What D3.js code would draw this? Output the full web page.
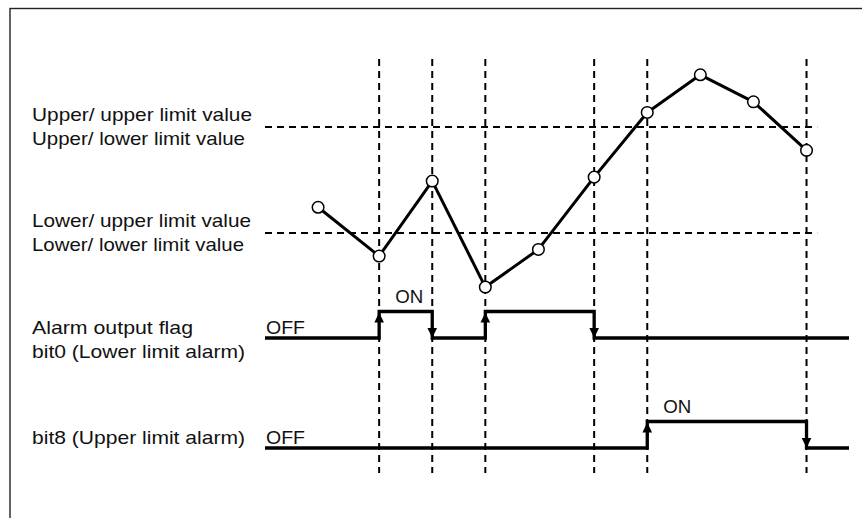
<!DOCTYPE html>
<html>
<head>
<meta charset="utf-8">
<script src="https://cdn.jsdelivr.net/npm/d3@7"></script>
<style>
  html, body { margin: 0; padding: 0; background: #fff; overflow: hidden; }
  svg { display: block; }
  text { font-family: "Liberation Sans", Arial, sans-serif; fill: #111; }
</style>
</head>
<body>
<svg id="chart" width="862" height="518"></svg>
<script>
// ---------------- data ----------------
const sampleTimes  = [1.0, 2.15, 3.15, 4.15, 5.15, 6.2, 7.2, 8.2, 9.2, 10.2];
const sampleValues = [39.7, 21.3, 49.6, 9.6, 23.8, 51.1, 75.5, 89.7, 79.5, 61.2];
const limitValues  = [70, 30];
const limitLabels  = [
  ["Upper/ upper limit value", "Upper/ lower limit value"],
  ["Lower/ upper limit value", "Lower/ lower limit value"]
];
const eventTimes   = [2.15, 3.15, 4.15, 6.2, 7.2, 10.2];
const signalNames  = ["bit0", "bit8"];
const bit0Edges    = [2.15, 3.15, 4.15, 6.2];
const bit8Edges    = [7.2, 10.2];
const signalLabels = [
  ["Alarm output flag", "bit0 (Lower limit alarm)"],
  ["bit8 (Upper limit alarm)"]
];
const stateLabels  = ["OFF", "ON"];

// ---------------- layout ----------------
const svg = d3.select("#chart");
const x = d3.scaleLinear().domain([0, 11]).range([265, 849]);
const y = d3.scaleLinear().domain([0, 100]).range([312.5, 47.5]);
const row = d3.scalePoint().domain(signalNames).range([338, 448]);
const level = d3.scaleLinear().domain([0, 1]).range([0, -26.5]);

const labelWidths = {
  "Upper/ upper limit value": 220, "Upper/ lower limit value": 213,
  "Lower/ upper limit value": 219, "Lower/ lower limit value": 212,
  "Alarm output flag": 161, "bit0 (Lower limit alarm)": 213,
  "bit8 (Upper limit alarm)": 213, "OFF": 39, "ON": 28
};
function addText(g, str, tx, ty, size) {
  g.append("text")
    .attr("x", tx).attr("y", ty)
    .attr("font-size", size || 19)
    .attr("textLength", labelWidths[str])
    .attr("lengthAdjust", "spacingAndGlyphs")
    .text(str);
}

// frame (open on right/bottom)
svg.append("rect")
  .attr("x", 10).attr("y", 8.5).attr("width", 900).attr("height", 600)
  .attr("fill", "none").attr("stroke", "#222").attr("stroke-width", 1.4);

const dash = "7,5";

// horizontal limit lines
svg.append("g").selectAll("line").data(limitValues).join("line")
  .attr("x1", x(0)).attr("x2", x(10.4))
  .attr("y1", d => y(d)).attr("y2", d => y(d))
  .attr("stroke", "#000").attr("stroke-width", 2).attr("stroke-dasharray", dash);

// vertical event lines
svg.append("g").selectAll("line").data(eventTimes).join("line")
  .attr("x1", d => x(d)).attr("x2", d => x(d))
  .attr("y1", 59).attr("y2", 473)
  .attr("stroke", "#000").attr("stroke-width", 2).attr("stroke-dasharray", dash);

// limit labels
const lg = svg.append("g");
limitValues.forEach((v, i) => {
  limitLabels[i].forEach((s, j) => addText(lg, s, 32, y(v) - 6 + 24 * j));
});

// process value line
const pts = sampleTimes.map((t, i) => [t, sampleValues[i]]);
svg.append("path")
  .datum(pts)
  .attr("d", d3.line().x(d => x(d[0])).y(d => y(d[1])))
  .attr("fill", "none").attr("stroke", "#000").attr("stroke-width", 3)
  .attr("stroke-linejoin", "round");
svg.append("g").selectAll("circle").data(pts).join("circle")
  .attr("cx", d => x(d[0])).attr("cy", d => y(d[1])).attr("r", 5.8)
  .attr("fill", "#fff").attr("stroke", "#000").attr("stroke-width", 1.5);

// alarm signals
const edgesByName = { bit0: bit0Edges, bit8: bit8Edges };
signalNames.forEach((name, si) => {
  const base = row(name);
  const edges = edgesByName[name];
  const steps = [{ t: x.domain()[0], s: 0 }];
  edges.forEach((t, k) => steps.push({ t: t, s: (k + 1) % 2 }));
  steps.push({ t: x.domain()[1], s: edges.length % 2 });

  const g = svg.append("g");
  g.append("path")
    .datum(steps)
    .attr("d", d3.line().curve(d3.curveStepAfter).x(d => x(d.t)).y(d => base + level(d.s)))
    .attr("fill", "none").attr("stroke", "#000").attr("stroke-width", 3.3);

  // arrow heads
  edges.forEach((t, k) => {
    const rising = k % 2 === 0;
    const cx = x(t);
    const p = d3.path();
    if (rising) {
      const tip = base + level(1) + 1;
      p.moveTo(cx, tip); p.lineTo(cx - 4.8, tip + 10); p.lineTo(cx + 4.8, tip + 10); p.closePath();
    } else {
      const tip = base + level(0);
      p.moveTo(cx, tip); p.lineTo(cx - 4.8, tip - 10); p.lineTo(cx + 4.8, tip - 10); p.closePath();
    }
    g.append("path").attr("d", p.toString()).attr("fill", "#000");
  });

  // labels
  signalLabels[si].forEach((s, j) => addText(g, s, 32, base - 4 + 24 * j));
  addText(g, stateLabels[0], x(0) + 1, base - 4);
  addText(g, stateLabels[1], x(edges[0]) + 16, base + level(1) - 9, 18);
});
</script>
</body>
</html>
